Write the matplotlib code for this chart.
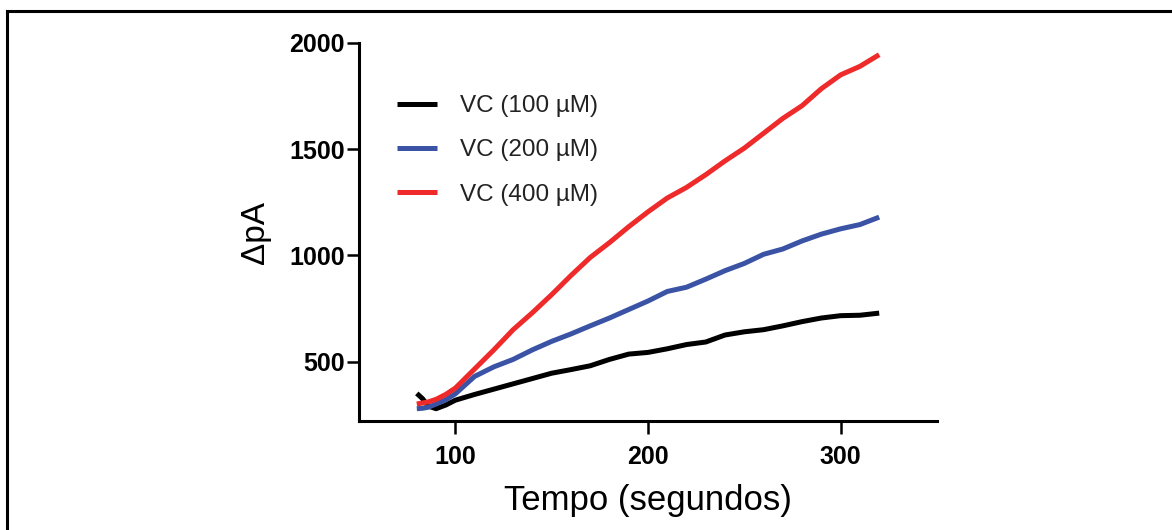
import matplotlib
matplotlib.use("Agg")
import matplotlib.pyplot as plt
from matplotlib.lines import Line2D

plt.rcParams['font.family'] = ['Liberation Sans', 'DejaVu Sans']

time_s = [80, 83, 86, 90, 95, 100, 110, 120, 130, 140, 150, 160, 170, 180, 190,
          200, 210, 220, 230, 240, 250, 260, 270, 280, 290, 300, 310, 320]
vc100 = [350, 325, 290, 278, 295, 318, 345, 370, 395, 420, 445, 462, 480, 510, 535,
         543, 560, 580, 592, 625, 640, 650, 668, 688, 705, 716, 718, 728]
vc200 = [278, 280, 285, 300, 320, 348, 430, 475, 510, 555, 595, 630, 668, 705, 745,
         785, 830, 850, 888, 928, 962, 1005, 1030, 1068, 1100, 1125, 1145, 1180]
vc400 = [300, 305, 310, 322, 345, 375, 465, 555, 650, 730, 815, 905, 990, 1060, 1135,
         1205, 1270, 1320, 1380, 1445, 1505, 1575, 1645, 1705, 1785, 1850, 1890, 1945]
labels = ['VC (100 µM)', 'VC (200 µM)', 'VC (400 µM)']
colors = ['#000000', '#3A53A4', '#EE2A2A']
xticks = [100, 200, 300]
yticks = [500, 1000, 1500, 2000]

fig = plt.figure(figsize=(11.72, 5.30), dpi=100)
ax = fig.add_axes([359/1172, 1 - 421/530, (937-359)/1172, (421-43)/530])

for y, lab, c in zip([vc100, vc200, vc400], labels, colors):
    ax.plot(time_s, y, color=c, lw=3.6, label=lab, solid_capstyle='butt')

ax.set_xlim(50, 350)
ax.set_ylim(220, 2000)
ax.set_xticks(xticks)
ax.set_yticks(yticks)
for s in ['top', 'right']:
    ax.spines[s].set_visible(False)
for s in ['left', 'bottom']:
    ax.spines[s].set_linewidth(2.2)
ax.tick_params(axis='both', direction='out', length=9, width=1.8, labelsize=18)
ax.tick_params(axis='y', pad=1)
ax.tick_params(axis='x', pad=8)
for t in ax.get_xticklabels() + ax.get_yticklabels():
    t.set_fontweight('bold')

ax.set_xlabel('Tempo (segundos)', fontsize=25, labelpad=11)
ax.set_ylabel('ΔpA', fontsize=24, labelpad=13)

leg = ax.legend(loc='upper left', bbox_to_anchor=(380/1172, 1 - 78/530),
                bbox_transform=fig.transFigure, frameon=False, fontsize=17.5,
                handlelength=1.65, handletextpad=0.95, labelspacing=0.92,
                borderpad=0.2)
for line in leg.get_lines():
    line.set_linewidth(3.6)
for t in leg.get_texts():
    t.set_color('#222222')

# outer frame (top and left edges visible)
fig.add_artist(Line2D([7/1172, 1.0], [1 - 11/530, 1 - 11/530], color='black', lw=2.2,
                      transform=fig.transFigure))
fig.add_artist(Line2D([7/1172, 7/1172], [0.0, 1 - 11/530], color='black', lw=2.2,
                      transform=fig.transFigure))

fig.savefig('out.png', dpi=100)
